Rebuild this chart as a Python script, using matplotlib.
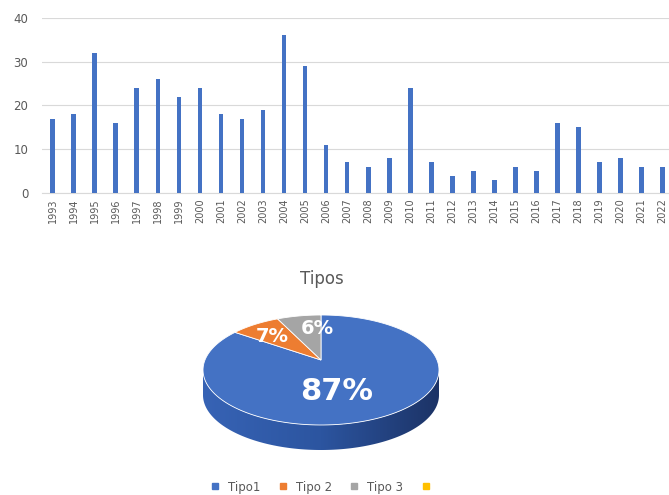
import numpy as np
import matplotlib
matplotlib.use('Agg')
import matplotlib.pyplot as plt
from matplotlib.patches import Polygon

# datos del grafico de barras
anos = list(range(1993, 2023))
valores = [17, 18, 32, 16, 24, 26, 22, 24, 18, 17, 19, 36, 29, 11, 7,
           6, 8, 24, 7, 4, 5, 3, 6, 5, 16, 15, 7, 8, 6, 6]

# datos del pastel
tipos = ['Tipo1', 'Tipo 2', 'Tipo 3', '']
porcentajes = [87, 7, 6, 0]
colores = ['#4472C4', '#ED7D31', '#A5A5A5', '#FFC000']

fig = plt.figure(figsize=(6.69, 4.95), dpi=100)

# --- barras ---
ax = fig.add_axes([0.063, 0.610, 0.937, 0.354])
x = np.arange(len(anos))
ax.bar(x, valores, width=0.22, color='#4472C4', zorder=3)
ax.set_xlim(-0.5, 29.3)
ax.set_ylim(0, 40)
ax.set_yticks([0, 10, 20, 30, 40])
ax.set_xticks(x)
ax.set_xticklabels([str(a) for a in anos], rotation=90, fontsize=7, color='#595959')
ax.tick_params(axis='y', labelsize=8.5, colors='#595959', length=0, pad=10)
ax.tick_params(axis='x', length=0, pad=4)
ax.grid(axis='y', color='#d9d9d9', linewidth=0.8, zorder=0)
for s in ['top', 'right', 'left']:
    ax.spines[s].set_visible(False)
ax.spines['bottom'].set_color('#d9d9d9')

# --- pastel 3D ---
ax2 = fig.add_axes([0, 0, 1, 0.5])
ax2.axis('off')

cx, cy, rx, ry, prof = 321, 370, 118, 55, 25

# lateral (frente del pastel)
t = np.linspace(np.pi, 0, 200)
arriba = np.column_stack([cx + rx * np.cos(t), cy + ry * np.sin(t)])
abajo = np.column_stack([cx + rx * np.cos(t[::-1]), cy + ry * np.sin(t[::-1]) + prof])
lado = Polygon(np.vstack([arriba, abajo]), closed=True, facecolor='none', edgecolor='none')
ax2.add_patch(lado)
grad = np.linspace(0, 1, 256).reshape(1, -1)
cmap = matplotlib.colors.LinearSegmentedColormap.from_list('lado', ['#3763b5', '#2c55a0', '#1c3366'])
im = ax2.imshow(grad, cmap=cmap, extent=[cx - rx, cx + rx, cy + ry + prof, cy], aspect='auto', zorder=1)
im.set_clip_path(lado)
ax2.set_xlim(0, 669)
ax2.set_ylim(495, 247.5)

# tapa
inicio = 90.0
total = sum(porcentajes)
for p, c in zip(porcentajes, colores):
    if p == 0:
        continue
    fin = inicio - 360.0 * p / total
    ang = np.radians(np.linspace(inicio, fin, 150))
    pts = np.column_stack([cx + rx * np.cos(ang), cy - ry * np.sin(ang)])
    pts = np.vstack([[cx, cy - 10], pts])
    ax2.add_patch(Polygon(pts, closed=True, facecolor=c, edgecolor='white', linewidth=0.6, zorder=2))
    inicio = fin

ax2.text(cx + 16, cy + 22, f'{porcentajes[0]}%', color='white', fontsize=22, fontweight='bold',
         ha='center', va='center', zorder=4)
ax2.text(cx - 49, cy - 33, f'{porcentajes[1]}%', color='white', fontsize=14, fontweight='bold',
         ha='center', va='center', zorder=4)
ax2.text(cx - 4, cy - 42, f'{porcentajes[2]}%', color='white', fontsize=14, fontweight='bold',
         ha='center', va='center', zorder=4)

ax2.text(322, 279, 'Tipos', fontsize=12, color='#595959', ha='center', va='center')

# leyenda
hs = [plt.Line2D([], [], marker='s', linestyle='', color=c, markersize=5) for c in colores]
fig.legend(hs, tipos, loc='center', bbox_to_anchor=(0.48, 0.016), ncol=4, frameon=False,
           fontsize=8.5, labelcolor='#595959', handletextpad=0.1, columnspacing=0.9)

fig.savefig('out.png', dpi=100)
